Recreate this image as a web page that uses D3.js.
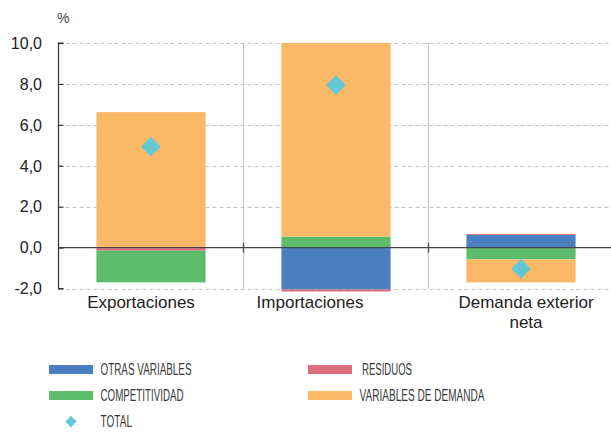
<!DOCTYPE html>
<html>
<head>
<meta charset="utf-8">
<script src="https://cdn.jsdelivr.net/npm/d3@7"></script>
<style>
  html, body { margin: 0; padding: 0; background: #fff; }
  svg { display: block; }
</style>
</head>
<body>
<svg id="chart" width="611" height="432"></svg>
<script>
// ---- data ----
const categories = ["Exportaciones", "Importaciones", "Demanda exterior neta"];
const otrasVariables = [-0.03, -2.05, 0.62];
const residuos = [-0.12, -0.10, 0.05];
const competitividad = [-1.55, 0.54, -0.58];
const variablesDemanda = [6.62, 9.46, -1.12];
const total = [4.93, 7.94, -1.04];
const yTicks = [-2, 0, 2, 4, 6, 8, 10];
const yTickLabels = ["-2,0", "0,0", "2,0", "4,0", "6,0", "8,0", "10,0"];
const seriesNames = ["OTRAS VARIABLES", "RESIDUOS", "COMPETITIVIDAD", "VARIABLES DE DEMANDA"];

// ---- layout / style ----
const colors = {
  "OTRAS VARIABLES": "#4a7fc1",
  "RESIDUOS": "#dc6e7e",
  "COMPETITIVIDAD": "#5dbb6c",
  "VARIABLES DE DEMANDA": "#fbb866"
};
const totalColor = "#64c8d3";
const pLeft = 58.5, pRight = 613.5, pTop = 43, pBottom = 288.5;
const barRatio = 0.59;
const labelDx = [-10, -26, 5];
const font = "'Liberation Sans', Arial, Helvetica, sans-serif";
const narrowFont = "'Liberation Sans Narrow', 'Liberation Sans', Arial, sans-serif";

const svg = d3.select("#chart");

const x = d3.scaleBand().domain(categories).range([pLeft, pRight]).paddingInner(0).paddingOuter(0);
const y = d3.scaleLinear().domain([-2, 10]).range([pBottom, pTop]);

// table for stack
const table = categories.map((c, i) => ({
  cat: c,
  "OTRAS VARIABLES": otrasVariables[i],
  "RESIDUOS": residuos[i],
  "COMPETITIVIDAD": competitividad[i],
  "VARIABLES DE DEMANDA": variablesDemanda[i]
}));

const stack = d3.stack().keys(seriesNames).order(d3.stackOrderNone).offset(d3.stackOffsetDiverging);
const stacked = stack(table);

// gridlines
svg.append("g")
  .selectAll("line")
  .data(yTicks.filter(t => t !== 0))
  .join("line")
  .attr("x1", pLeft).attr("x2", 611)
  .attr("y1", d => Math.round(y(d)) + 0.5).attr("y2", d => Math.round(y(d)) + 0.5)
  .attr("stroke", "#c4c4c4")
  .attr("stroke-width", 1)
  .attr("stroke-dasharray", "4,3");

// category dividers
svg.append("g")
  .selectAll("line")
  .data(categories.slice(1))
  .join("line")
  .attr("x1", d => Math.round(x(d)) - 0.5).attr("x2", d => Math.round(x(d)) - 0.5)
  .attr("y1", pTop).attr("y2", pBottom)
  .attr("stroke", "#c8c8c8")
  .attr("stroke-width", 1.2);

// bars
const bw = x.bandwidth() * barRatio;
const bOff = (x.bandwidth() - bw) / 2;
svg.append("g")
  .selectAll("g")
  .data(stacked)
  .join("g")
  .attr("fill", d => colors[d.key])
  .selectAll("rect")
  .data(d => d)
  .join("rect")
  .attr("x", d => x(d.data.cat) + bOff)
  .attr("width", bw)
  .attr("y", d => y(Math.max(d[0], d[1])))
  .attr("height", d => Math.abs(y(d[0]) - y(d[1])));

// zero line
svg.append("line")
  .attr("x1", pLeft).attr("x2", 611)
  .attr("y1", y(0)).attr("y2", y(0))
  .attr("stroke", "#444").attr("stroke-width", 1.3);

// zero-line ticks at dividers
svg.append("g")
  .selectAll("line")
  .data(categories.slice(1))
  .join("line")
  .attr("x1", d => Math.round(x(d)) - 0.5).attr("x2", d => Math.round(x(d)) - 0.5)
  .attr("y1", y(0) - 5).attr("y2", y(0) + 5)
  .attr("stroke", "#444").attr("stroke-width", 1.3);

// y axis
const yAxis = d3.axisRight(y)
  .tickValues(yTicks)
  .tickSize(5)
  .tickFormat("");
const ya = svg.append("g").attr("transform", `translate(${pLeft},0)`).call(yAxis);
ya.select(".domain").attr("stroke", "#333").attr("stroke-width", 1.2).attr("d", `M5,${pTop}H0V${pBottom}H5`);
ya.selectAll(".tick line").attr("stroke", "#333").attr("stroke-width", 1.2);

// y tick labels
svg.append("g")
  .selectAll("text")
  .data(yTicks)
  .join("text")
  .attr("x", 42)
  .attr("y", d => y(d))
  .attr("dy", "0.36em")
  .attr("text-anchor", "end")
  .attr("font-family", font)
  .attr("font-size", 16)
  .attr("fill", "#222")
  .text((d, i) => yTickLabels[i]);

// % label
svg.append("text")
  .attr("x", 57).attr("y", 23)
  .attr("font-family", font).attr("font-size", 14).attr("fill", "#444")
  .text("%");

// total diamonds
svg.append("g")
  .selectAll("path")
  .data(total)
  .join("path")
  .attr("d", d3.symbol().type(d3.symbolSquare).size(196))
  .attr("transform", (d, i) => `translate(${x(categories[i]) + x.bandwidth() / 2},${y(d)}) rotate(45)`)
  .attr("fill", totalColor);

// category labels
const catLines = [["Exportaciones"], ["Importaciones"], ["Demanda exterior", "neta"]];
const cl = svg.append("g");
categories.forEach((c, i) => {
  const t = cl.append("text")
    .attr("x", x(c) + x.bandwidth() / 2 + labelDx[i])
    .attr("y", 308)
    .attr("text-anchor", "middle")
    .attr("font-family", font)
    .attr("font-size", 17)
    .attr("fill", "#222");
  catLines[i].forEach((ln, j) => {
    t.append("tspan")
      .attr("x", x(c) + x.bandwidth() / 2 + labelDx[i])
      .attr("dy", j === 0 ? 0 : 20)
      .text(ln);
  });
});

// legend
const legendItems = [
  { name: "OTRAS VARIABLES", sx: 49, tx: 100.5, cy: 369.5, w: 91 },
  { name: "COMPETITIVIDAD", sx: 49, tx: 100.5, cy: 395.5, w: 83 },
  { name: "RESIDUOS", sx: 308, tx: 362, cy: 369.5, w: 50 },
  { name: "VARIABLES DE DEMANDA", sx: 308, tx: 359.5, cy: 395.5, w: 125 }
];
const lg = svg.append("g");
legendItems.forEach(it => {
  lg.append("rect")
    .attr("x", it.sx).attr("y", it.cy - 4.5)
    .attr("width", 44).attr("height", 9)
    .attr("fill", colors[it.name]);
  lg.append("text")
    .attr("x", it.tx).attr("y", it.cy + 5.8)
    .attr("font-family", narrowFont)
    .attr("font-size", 16)
    .attr("fill", "#3a3a3a")
    .attr("textLength", it.w)
    .attr("lengthAdjust", "spacingAndGlyphs")
    .text(it.name);
});
lg.append("path")
  .attr("d", d3.symbol().type(d3.symbolSquare).size(64))
  .attr("transform", "translate(71,421.5) rotate(45)")
  .attr("fill", totalColor);
lg.append("text")
  .attr("x", 100.5).attr("y", 427.3)
  .attr("font-family", narrowFont)
  .attr("font-size", 16)
  .attr("fill", "#3a3a3a")
  .attr("textLength", 31.5)
  .attr("lengthAdjust", "spacingAndGlyphs")
  .text("TOTAL");
</script>
</body>
</html>
